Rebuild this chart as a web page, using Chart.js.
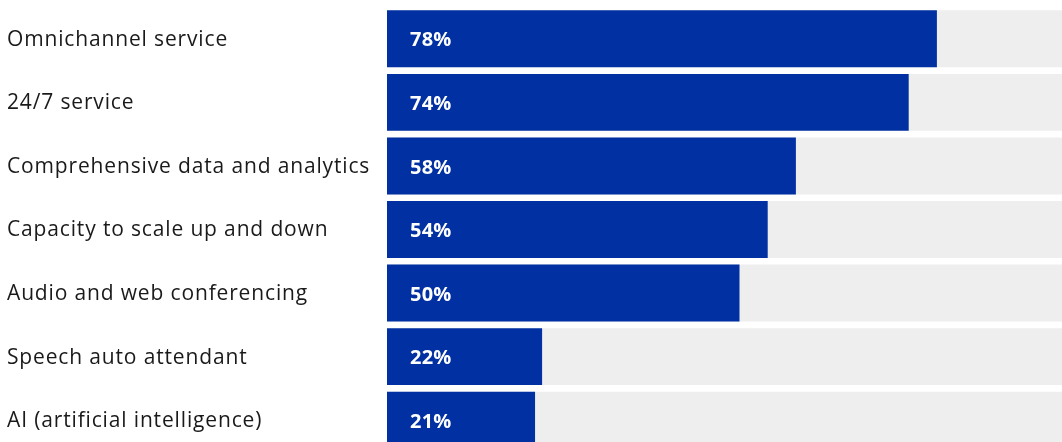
<!DOCTYPE html>
<html>
<head>
<meta charset="utf-8">
<script src="https://cdn.jsdelivr.net/npm/chart.js@4/dist/chart.umd.min.js"></script>
<style>
  html, body { margin: 0; padding: 0; background: #ffffff; overflow: hidden; width: 1062px; height: 442px; }
  #wrap { position: absolute; left: 0; top: 0; width: 1100px; height: 460px; }
</style>
</head>
<body>
<div id="wrap"><canvas id="c" width="1100" height="460"></canvas></div>
<script>
const categories = [
  "Omnichannel service",
  "24/7 service",
  "Comprehensive data and analytics",
  "Capacity to scale up and down",
  "Audio and web conferencing",
  "Speech auto attendant",
  "AI (artificial intelligence)"
];
const values = [78, 74, 58, 54, 50, 22, 21];
const fullScale = [100, 100, 100, 100, 100, 100, 100];

const spacing = {
  id: 'spacing',
  beforeDraw(chart) { chart.ctx.letterSpacing = '0.85px'; }
};

const valueLabels = {
  id: 'valueLabels',
  afterDatasetsDraw(chart) {
    const ctx = chart.ctx;
    const meta = chart.getDatasetMeta(0);
    const x0 = chart.scales.x.getPixelForValue(0);
    ctx.save();
    ctx.letterSpacing = '0.2px';
    ctx.fillStyle = '#ffffff';
    ctx.font = 'bold 20px "Open Sans"';
    ctx.textAlign = 'left';
    ctx.textBaseline = 'middle';
    meta.data.forEach((bar, i) => {
      ctx.fillText(values[i] + '%', x0 + 23, bar.y + 2);
    });
    ctx.restore();
  }
};

new Chart(document.getElementById('c'), {
  type: 'bar',
  data: {
    labels: categories,
    datasets: [
      {
        data: values,
        backgroundColor: '#0030A1',
        grouped: false,
        barPercentage: 0.896,
        categoryPercentage: 1
      },
      {
        data: fullScale,
        backgroundColor: '#EEEEEE',
        grouped: false,
        barPercentage: 0.896,
        categoryPercentage: 1
      }
    ]
  },
  options: {
    indexAxis: 'y',
    responsive: false,
    animation: false,
    layout: { padding: { left: 7, right: 8, top: 7, bottom: 8 } },
    plugins: { legend: { display: false }, tooltip: { enabled: false } },
    scales: {
      x: { display: false, min: 0, max: 100 },
      y: {
        grid: { display: false },
        border: { display: false },
        ticks: {
          crossAlign: 'far',
          labelOffset: 1,
          color: '#1a1a1a',
          font: { family: '"Open Sans"', size: 21 }
        },
        afterFit(scale) {
          scale.width = 380;
          scale.paddingTop = 0;
          scale.paddingBottom = 0;
        }
      }
    }
  },
  plugins: [spacing, valueLabels]
});
</script>
</body>
</html>
